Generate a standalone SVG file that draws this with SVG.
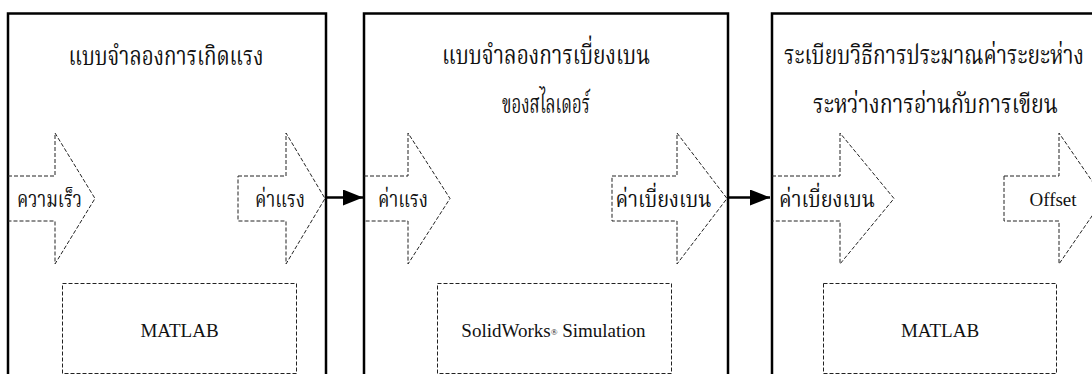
<svg xmlns="http://www.w3.org/2000/svg" width="1092" height="374" viewBox="0 0 1092 374">
<style>
.box{fill:none;stroke:#000;stroke-width:2.5}
.dash{fill:none;stroke:#222;stroke-width:1;stroke-dasharray:4 2}
.th{font-family:"Noto Serif Thai","Noto Sans Thai","Garuda","Loma","Liberation Serif",serif;fill:#111}
.t1{font-size:27px}
.t2{font-size:23px}
.lat{font-family:"Liberation Serif","Times New Roman",serif;font-size:19px;fill:#111}
.con{stroke:#000;stroke-width:2.5;fill:none}
</style>
<defs>
<marker id="ah" markerWidth="20" markerHeight="16" refX="20" refY="8" orient="auto" markerUnits="userSpaceOnUse">
<path d="M0,0 L20,8 L0,16 Z" fill="#000"/>
</marker>
</defs>
<rect width="1092" height="374" fill="#fff"/>
<g id="node1">
<rect class="box" x="8" y="13.5" width="318" height="370"/>
<text class="th t1" x="166" y="65" text-anchor="middle" textLength="195" lengthAdjust="spacingAndGlyphs">แบบจำลองการเกิดแรง</text>
<path class="dash" d="M8,176 H55 V133 L95,198.5 L55,264 V221 H8"/>
<text class="th t2" x="49.5" y="207" text-anchor="middle" textLength="65" lengthAdjust="spacingAndGlyphs">ความเร็ว</text>
<path class="dash" d="M238,176 H286 V133 L325,198.5 L286,264 V221 H238 Z"/>
<text class="th t2" x="280" y="207" text-anchor="middle" textLength="50" lengthAdjust="spacingAndGlyphs">ค่าแรง</text>
<rect class="dash" x="62.5" y="283.5" width="234" height="90"/>
<text class="lat" x="179.5" y="337" text-anchor="middle">MATLAB</text>
</g>
<g id="node2">
<rect class="box" x="364" y="13.5" width="364" height="370"/>
<text class="th t1" x="546" y="64" text-anchor="middle" textLength="208" lengthAdjust="spacingAndGlyphs">แบบจำลองการเบี่ยงเบน</text>
<text class="th t1" x="546" y="113" text-anchor="middle" textLength="88" lengthAdjust="spacingAndGlyphs">ของสไลเดอร์</text>
<path class="dash" d="M364,176 H408 V133 L450,198.5 L408,264 V221 H364"/>
<text class="th t2" x="403" y="207" text-anchor="middle" textLength="50" lengthAdjust="spacingAndGlyphs">ค่าแรง</text>
<path class="dash" d="M612,176 H677 V133 L727,198.5 L677,264 V221 H612 Z"/>
<text class="th t2" x="663.5" y="207" text-anchor="middle" textLength="96" lengthAdjust="spacingAndGlyphs">ค่าเบี่ยงเบน</text>
<rect class="dash" x="437.5" y="283.5" width="234" height="90"/>
<text class="lat" x="553.5" y="337" text-anchor="middle">SolidWorks<tspan font-size="9" dy="-2">®</tspan><tspan dy="2"> Simulation</tspan></text>
</g>
<g id="node3">
<rect class="box" x="772" y="13.5" width="330" height="370"/>
<text class="th t1" x="934" y="64" text-anchor="middle" textLength="300" lengthAdjust="spacingAndGlyphs">ระเบียบวิธีการประมาณค่าระยะห่าง</text>
<text class="th t1" x="935.5" y="113" text-anchor="middle" textLength="245" lengthAdjust="spacingAndGlyphs">ระหว่างการอ่านกับการเขียน</text>
<path class="dash" d="M772,176 H840 V133 L894,198.5 L840,264 V221 H772"/>
<text class="th t2" x="827" y="207" text-anchor="middle" textLength="96" lengthAdjust="spacingAndGlyphs">ค่าเบี่ยงเบน</text>
<path class="dash" d="M1004,176 H1059 V133 L1104,198.5 L1059,264 V221 H1004 Z"/>
<text class="lat" x="1053" y="206" text-anchor="middle">Offset</text>
<rect class="dash" x="823.5" y="283.5" width="233" height="90"/>
<text class="lat" x="940" y="337" text-anchor="middle">MATLAB</text>
</g>
<g id="connectors">
<line class="con" x1="327" y1="197.5" x2="363" y2="197.5" marker-end="url(#ah)"/>
<line class="con" x1="729" y1="197.5" x2="770" y2="197.5" marker-end="url(#ah)"/>
</g>
</svg>
